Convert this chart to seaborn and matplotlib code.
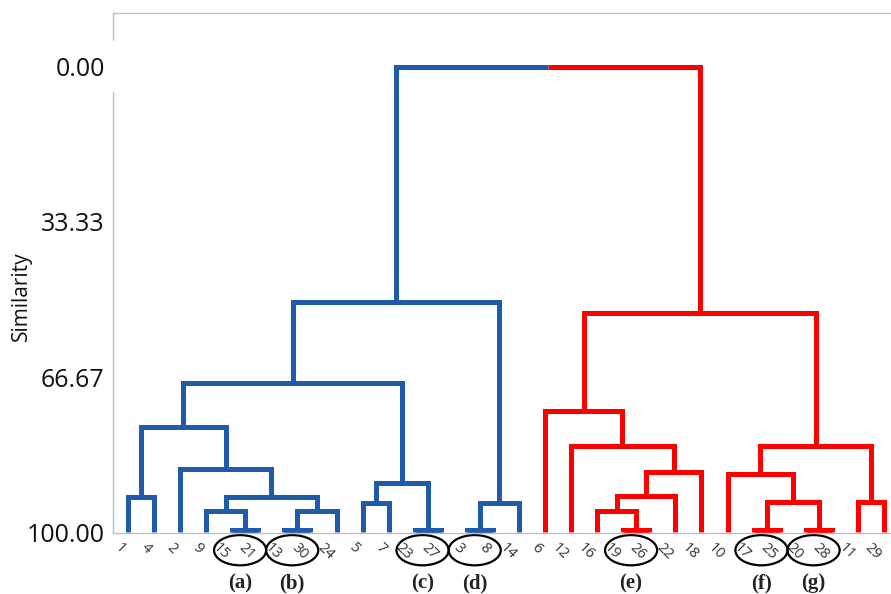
import matplotlib
matplotlib.use("Agg")
import matplotlib.pyplot as plt
from matplotlib.patches import Ellipse
import seaborn as sns
import pandas as pd

# orden de las hojas en el dendrograma
leaf_labels = [1, 4, 2, 9, 15, 21, 13, 30, 24, 5, 7, 23, 27, 3, 8, 14,
               6, 12, 16, 19, 26, 22, 18, 10, 17, 25, 20, 28, 11, 29]

# uniones: nodo A, nodo B, similitud, grupo ("mN" = union N)
merge_a = [15, 13, 23, 3, 1, 9, "m1", "m5", 2, "m4", 5, "m10", "m9", "m3", "m12",
           19, 17, 20, 16, "m18", "m19", 12, 6, "m16", 10, 11, "m24", "m22",
           "m14"]
merge_b = [21, 30, 27, 8, 4, "m0", 24, "m6", "m7", "m8", 7, "m2", "m11", 14, "m13",
           26, 25, 28, "m15", 22, 18, "m20", "m21", "m17", "m23", 29, "m25", "m26",
           "m27"]
merge_sim = [99.5, 99.5, 99.5, 99.5, 92.5, 95.5, 95.5, 92.5, 86.4, 77.4, 93.8, 89.5,
             68.0, 93.8, 50.5,
             99.5, 99.5, 99.5, 95.5, 92.3, 87.0, 81.6, 74.0, 93.5, 87.5, 93.5, 81.6,
             53.0,
             0.0]
merge_group = ["blue"] * 15 + ["red"] * 13 + ["root"]

y_ticks = [0.0, 33.33, 66.67, 100.0]
y_ticklabels = ["0.00", "33.33", "66.67", "100.00"]

circled_pairs = [(15, 21), (13, 30), (23, 27), (3, 8), (19, 26), (17, 25), (20, 28)]
circle_tags = ["(a)", "(b)", "(c)", "(d)", "(e)", "(f)", "(g)"]

colores = {"blue": "#1f5aab", "red": "#ff0000"}

# posiciones de los nodos
pos = {lab: (i, 100.0) for i, lab in enumerate(leaf_labels)}
rows = []
seg = 0
for k, (a, b, h, g) in enumerate(zip(merge_a, merge_b, merge_sim, merge_group)):
    xa, ya = pos[a]
    xb, yb = pos[b]
    xm = (xa + xb) / 2
    pos["m%d" % k] = (xm, h)
    if g == "root":
        for pts, c in [([(xa, ya), (xa, h), (xm, h)], "blue"),
                       ([(xm, h), (xb, h), (xb, yb)], "red")]:
            for x, y in pts:
                rows.append({"x": x, "y": y, "seg": seg, "grupo": c})
            seg += 1
    else:
        for x, y in [(xa, ya), (xa, h), (xb, h), (xb, yb)]:
            rows.append({"x": x, "y": y, "seg": seg, "grupo": g})
        seg += 1
df = pd.DataFrame(rows)

sns.set_theme(style="white")
plt.rcParams['font.family'] = ['Open Sans', 'DejaVu Sans']

fig = plt.figure(figsize=(8.91, 5.94), dpi=100)
ax = fig.add_axes([113 / 891, 1 - 533 / 594, 1 - 113 / 891, 520 / 594])

sns.lineplot(data=df, x="x", y="y", units="seg", hue="grupo", palette=colores,
             estimator=None, sort=False, linewidth=3.6, legend=False, ax=ax,
             solid_joinstyle="miter", solid_capstyle="butt")

x0, x1 = -0.575, 29.27
ax.set_xlim(x0, x1)
ax.set_ylim(100.2, -11.6)

ax.set_xticks(range(len(leaf_labels)))
ax.set_xticklabels([str(l) for l in leaf_labels], rotation=-45, ha="right",
                   fontsize=10.5, color="#333333")
ax.set_yticks(y_ticks)
ax.set_yticklabels(y_ticklabels, fontsize=18, color="#111111")
ax.tick_params(axis="both", direction="out", length=3, width=0.8, color="#bfbfbf")
ax.tick_params(axis="x", pad=2)
ax.tick_params(axis="y", pad=3)
ax.set_xlabel("")
ax.set_ylabel("Similarity", fontsize=15, color="#111111", va="center")
ax.yaxis.set_label_coords(-0.118, 0.456)

for s in ["left", "top", "bottom"]:
    ax.spines[s].set_color("#bfbfbf")
    ax.spines[s].set_linewidth(1)
ax.spines["right"].set_visible(False)

# hueco del eje junto a 0.00
ax.plot([x0, x0], [-5.2, 4.9], color="white", lw=3, clip_on=False, zorder=10)

# elipses y letras bajo los pares
for (p, q), tag in zip(circled_pairs, circle_tags):
    cx = (leaf_labels.index(p) + leaf_labels.index(q)) / 2 - 0.2
    ax.add_patch(Ellipse((cx, 103.9), width=2.0, height=6.5, fill=False,
                         edgecolor="black", lw=1.6, clip_on=False))
    ax.text(cx, 111.0, tag, ha="center", va="center", fontsize=15,
            fontweight="bold", family="Liberation Serif", color="#222222")

fig.savefig("out.png", dpi=100)
